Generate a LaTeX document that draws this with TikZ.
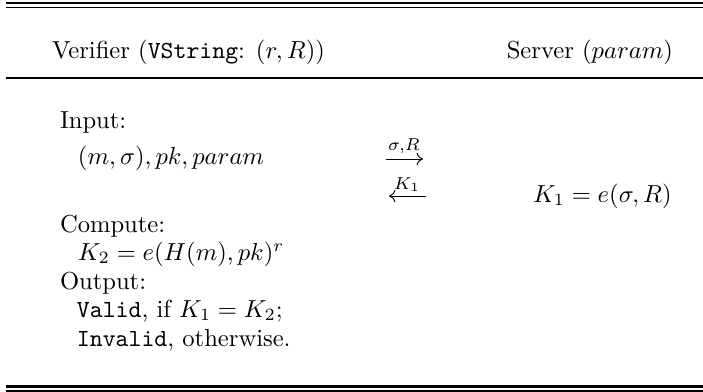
\documentclass[tikz,border=0pt]{standalone}
\usetikzlibrary{arrows.meta}
\begin{document}
\begin{tikzpicture}[x=0.4065pt,y=-0.4065pt,
  txt/.style={anchor=base west,inner sep=0pt,outer sep=0pt},
  txtr/.style={anchor=base east,inner sep=0pt,outer sep=0pt},
  lbl/.style={anchor=base,inner sep=0pt,outer sep=0pt},
  thickrule/.style={line width=1.2pt},
  thinrule/.style={line width=0.45pt},
  midrule/.style={line width=1.1pt},
  msg/.style={line width=0.4pt,-{To[length=2.6pt,width=5pt]}}]
\useasboundingbox (0,0) rectangle (703,392);
% rules
\draw[thickrule] (6,3) -- (703,3);
\draw[thinrule] (6,7.5) -- (703,7.5);
\draw[midrule] (6,78) -- (703,78);
\draw[thickrule] (6,386.5) -- (703,386.5);
\draw[thinrule] (6,391) -- (703,391);
% header
\node[txt] (ver) at (52,58) {Verifier (\texttt{VString}: $(r,R)$)};
\node[txtr] (srv) at (673,58) {Server ($param$)};
% verifier column
\node[txt] (inp) at (60,128) {Input:};
\node[txt] (inv) at (78,164) {$(m,\sigma),pk,param$};
\node[txt] (cmp) at (60,232) {Compute:};
\node[txt] (k2) at (78,260) {$K_2=e(H(m),pk)^r$};
\node[txt] (out) at (60,289) {Output:};
\node[txt] (val) at (77,317) {\texttt{Valid}, if $K_1=K_2$;};
\node[txt] (ival) at (77,346) {\texttt{Invalid}, otherwise.};
% server column
\node[txt] (k1) at (533,202) {$K_1=e(\sigma,R)$};
% messages
\coordinate (a1s) at (386,159);
\coordinate (a1e) at (423,159);
\coordinate (a2s) at (426,196);
\coordinate (a2e) at (389,196);
\draw[msg] (a1s) -- (a1e);
\draw[msg] (a2s) -- (a2e);
\node[lbl] (l1) at (404,150) {$\scriptstyle\sigma,R$};
\node[lbl] (l2) at (407,189) {$\scriptstyle K_1$};
\end{tikzpicture}
\end{document}
